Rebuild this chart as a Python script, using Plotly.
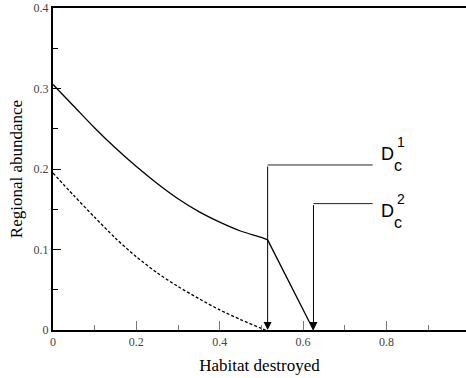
import plotly.graph_objects as go

# Solid curve (model 1) and its linear drop
solid_x = [0, 0.05, 0.1, 0.15, 0.2, 0.25, 0.3, 0.35, 0.4, 0.45, 0.5, 0.515, 0.625]
solid_y = [0.305, 0.278, 0.251, 0.226, 0.203, 0.182, 0.163, 0.147, 0.134, 0.123, 0.115, 0.112, 0.0]

# Dashed curve (model 2)
dash_x = [0, 0.05, 0.1, 0.15, 0.2, 0.25, 0.3, 0.35, 0.4, 0.45, 0.5, 0.51]
dash_y = [0.195, 0.167, 0.140, 0.114, 0.091, 0.071, 0.054, 0.039, 0.025, 0.013, 0.002, 0.0]

# Critical thresholds and annotation leaders
dc_x = [0.515, 0.625]
dc_y = [0.205, 0.157]
dc_sup = ["1", "2"]
label_x = 0.767

x_ticks = [0, 0.2, 0.4, 0.6, 0.8]
x_ticklabels = ["0", "0.2", "0.4", "0.6", "0.8"]
y_ticks = [0, 0.1, 0.2, 0.3, 0.4]
y_ticklabels = ["0", "0.1", "0.2", "0.3", "0.4"]

SERIF = "Liberation Serif, Times New Roman, serif"
SANS = "Liberation Sans, Arial, sans-serif"

fig = go.Figure()
# smooth part of the solid curve
fig.add_trace(go.Scatter(x=solid_x[:-1], y=solid_y[:-1], mode="lines",
                         line=dict(color="black", width=1.3, shape="spline", smoothing=0.8),
                         showlegend=False))
# straight drop of the solid curve
fig.add_trace(go.Scatter(x=solid_x[-2:], y=solid_y[-2:], mode="lines",
                         line=dict(color="black", width=1.3), showlegend=False))
fig.add_trace(go.Scatter(x=dash_x, y=dash_y, mode="lines",
                         line=dict(color="black", width=1.3, dash="3px,2px",
                                   shape="spline", smoothing=0.8),
                         showlegend=False))

# label pixel offsets relative to leader end (D, c, sup)
label_shift = [
    dict(D=(6, 11), c=(19, -1), s=(22, 23)),
    dict(D=(6, -7), c=(19, -19), s=(22, 5)),
]

annotations = []
for xv, yv, sup, sh in zip(dc_x, dc_y, dc_sup, label_shift):
    fig.add_trace(go.Scatter(x=[xv, label_x], y=[yv, yv], mode="lines",
                             line=dict(color="#222", width=1), showlegend=False,
                             hoverinfo="skip"))
    annotations.append(dict(x=xv, y=0, ax=xv, ay=yv, xref="x", yref="y",
                            axref="x", ayref="y", text="", showarrow=True,
                            arrowhead=2, arrowsize=1.6, arrowwidth=1,
                            arrowcolor="black"))
    annotations.append(dict(x=label_x, y=yv, xref="x", yref="y", text="D",
                            showarrow=False, xanchor="left", yanchor="middle",
                            xshift=sh["D"][0], yshift=sh["D"][1],
                            font=dict(family=SANS, size=18, color="black")))
    annotations.append(dict(x=label_x, y=yv, xref="x", yref="y", text="c",
                            showarrow=False, xanchor="left", yanchor="middle",
                            xshift=sh["c"][0], yshift=sh["c"][1],
                            font=dict(family=SANS, size=16, color="black")))
    annotations.append(dict(x=label_x, y=yv, xref="x", yref="y", text=sup,
                            showarrow=False, xanchor="left", yanchor="middle",
                            xshift=sh["s"][0], yshift=sh["s"][1],
                            font=dict(family=SANS, size=14, color="black")))

fig.update_layout(
    width=466, height=378,
    margin=dict(l=53, r=0, t=8, b=48),
    plot_bgcolor="white", paper_bgcolor="white",
    annotations=annotations,
    xaxis=dict(range=[0, 0.991], tickvals=x_ticks, ticktext=x_ticklabels,
               ticks="inside", ticklen=9, tickwidth=1.2, tickcolor="#777",
               minor=dict(dtick=0.1, tick0=0, ticks="inside", ticklen=5,
                          tickcolor="#777", tickwidth=1.2),
               showline=True, linecolor="black", linewidth=2, mirror=True,
               showgrid=False, zeroline=False,
               tickfont=dict(family=SERIF, size=12, color="#444"),
               title=dict(text="Habitat destroyed", standoff=11,
                          font=dict(family=SERIF, size=17, color="black"))),
    yaxis=dict(range=[0, 0.4], tickvals=y_ticks, ticktext=y_ticklabels,
               ticks="inside", ticklen=8, tickwidth=1.2, tickcolor="black",
               minor=dict(dtick=0.05, tick0=0, ticks="inside", ticklen=5,
                          tickcolor="black", tickwidth=1.2),
               showline=True, linecolor="black", linewidth=2,
               showgrid=False, zeroline=False,
               tickfont=dict(family=SERIF, size=12, color="#444"),
               title=dict(text="Regional abundance", standoff=7,
                          font=dict(family=SERIF, size=17, color="black"))),
)

fig.write_html("out.html")
